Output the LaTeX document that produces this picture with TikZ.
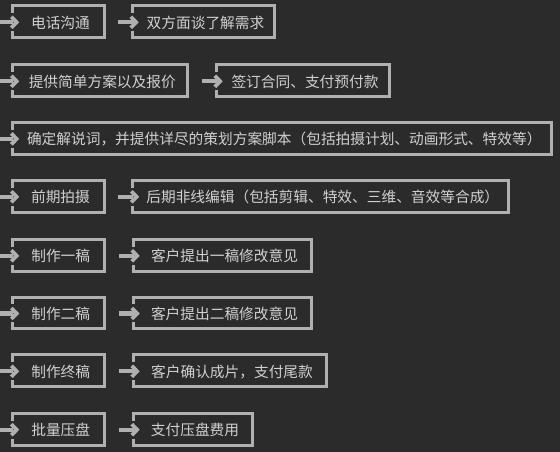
\documentclass[tikz,border=0pt]{standalone}
\usepackage{fontspec}
\newfontfamily\cjk{Noto Sans CJK SC}
\definecolor{bgc}{HTML}{2B2B2B}
\definecolor{framec}{HTML}{B0B0B0}
\definecolor{textc}{HTML}{D0D0D0}
\begin{document}
\begin{tikzpicture}[x=1pt,y=1pt,
  stepbox/.style={rectangle,inner sep=0pt,minimum height=31.5pt,draw=none},
  steptext/.style={inner sep=0pt,text=textc,font=\cjk\fontsize{14.7}{16}\selectfont},
  framepath/.style={draw=framec,line width=3pt,line join=miter,line cap=butt},
  arrowbar/.style={draw=framec,line width=4.3pt,line cap=butt},
  arrowhead/.style={draw=framec,line width=3.8pt,line join=miter,line cap=butt}
]
\fill[bgc] (0,0) rectangle (560,452);
\useasboundingbox (0,0) rectangle (560,452);

% boxes: name, center x, center y, width, text
\newcommand\mkbox[5]{%
  \node[stepbox,minimum width=#4pt] (#1) at (#2,#3) {};
  \node[steptext] (#1t) at ([xshift=2pt,yshift=-1pt]#1.center) {#5};
  \draw[framepath] ([yshift=-9.5pt]#1.west) -- (#1.south west) -- (#1.south east)
     -- (#1.north east) -- (#1.north west) -- ([yshift=8.5pt]#1.west);
}
\newcommand\mkhead[1]{%
  \draw[arrowhead] ([xshift=-1.5pt,yshift=5pt]#1.west) -- ([xshift=3.8pt,yshift=-0.5pt]#1.west)
     -- ([xshift=-1.5pt,yshift=-6pt]#1.west);
}

\mkbox{a1}{58.5}{430.2}{91}{电话沟通}
\mkbox{b1}{203.5}{430.2}{142}{双方面谈了解需求}
\mkbox{a2}{100.25}{371.2}{174.5}{提供简单方案以及报价}
\mkbox{b2}{303}{371.2}{173}{签订合同、支付预付款}
\mkbox{a3}{282.25}{313.6}{538.5}{确定解说词，并提供详尽的策划方案脚本（包括拍摄计划、动画形式、特效等）}
\mkbox{a4}{58.5}{255.7}{91}{前期拍摄}
\mkbox{b4}{320.75}{255.7}{375.5}{后期非线编辑（包括剪辑、特效、三维、音效等合成）}
\mkbox{a5}{58.75}{196.7}{91.5}{制作一稿}
\mkbox{b5}{222.5}{196.7}{178}{客户提出一稿修改意见}
\mkbox{a6}{58.75}{139}{91.5}{制作二稿}
\mkbox{b6}{222.5}{139}{178}{客户提出二稿修改意见}
\mkbox{a7}{58.75}{81.2}{91.5}{制作终稿}
\mkbox{b7}{230}{81.2}{193}{客户确认成片，支付尾款}
\mkbox{a8}{58.75}{22.8}{91.5}{批量压盘}
\mkbox{b8}{193}{22.8}{119}{支付压盘费用}

% entry arrows of first column
\foreach \r in {1,...,8}{
  \coordinate (s\r) at (-1,0 |- a\r.west);
  \draw[arrowbar] ([yshift=-0.5pt]s\r) -- ([xshift=0.5pt,yshift=-0.5pt]a\r.west);
  \mkhead{a\r}
}
% arrows between first and second column
\foreach \r in {1,2,4,5,6,7,8}{
  \draw[arrowbar] ([xshift=14pt,yshift=-0.5pt]a\r.east) -- ([xshift=0.5pt,yshift=-0.5pt]b\r.west);
  \mkhead{b\r}
}
\end{tikzpicture}
\end{document}
